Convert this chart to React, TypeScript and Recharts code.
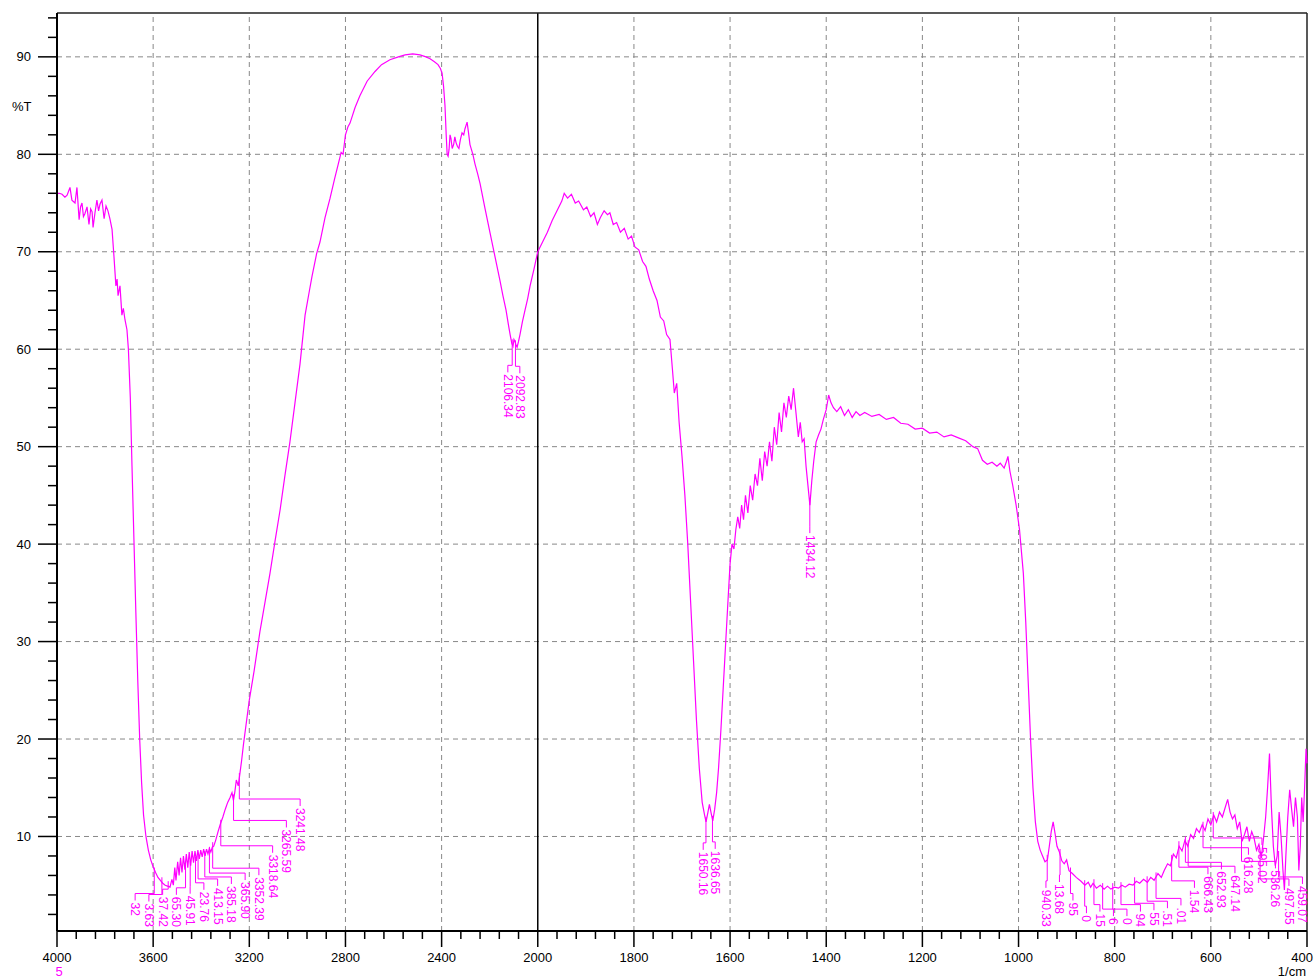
import { ComposedChart, Line, Scatter, XAxis, YAxis, ReferenceLine } from "recharts";

const MAGENTA = "#ff00ff";
const FONT = "'Liberation Sans', Arial, sans-serif";

// sampled spectrum, wavenumber in 1/cm (4000 -> 400) and %T
const WAVENUMBERS = [
  4000, 3990, 3979, 3967, 3958, 3946, 3938, 3925, 3917, 3908, 3902, 3896, 3890, 3884, 3875, 3867,
  3860, 3854, 3850, 3842, 3834, 3827, 3821, 3813, 3804, 3796, 3788, 3780, 3771, 3763, 3755, 3750,
  3746, 3742, 3738, 3730, 3724, 3717, 3709, 3703, 3695, 3688, 3680, 3672, 3664, 3656, 3648, 3640,
  3630, 3620, 3610, 3600, 3590, 3580, 3570, 3560, 3550, 3540, 3530, 3522, 3516, 3510, 3505, 3498,
  3492, 3486, 3480, 3474, 3468, 3462, 3456, 3450, 3444, 3438, 3432, 3426, 3420, 3414, 3408, 3402,
  3396, 3390, 3384, 3378, 3372, 3366, 3360, 3354, 3348, 3340, 3330, 3320, 3310, 3300, 3290, 3280,
  3272, 3266, 3260, 3254, 3246, 3240, 3232, 3224, 3216, 3208, 3200, 3180, 3156, 3135, 3114, 3093,
  3072, 3052, 3031, 3010, 2989, 2968, 2950, 2939, 2920, 2906, 2885, 2864, 2845, 2830, 2818, 2810,
  2800, 2790, 2781, 2760, 2740, 2710, 2677, 2650, 2615, 2580, 2552, 2520, 2490, 2465, 2448, 2430,
  2415, 2405, 2398, 2392, 2386, 2381, 2377, 2373, 2369, 2365, 2361, 2356, 2350, 2345, 2340, 2334,
  2328, 2322, 2315, 2308, 2303, 2298, 2294, 2288, 2282, 2270, 2261, 2250, 2240, 2220, 2199, 2178,
  2157, 2145, 2132, 2122, 2115, 2108, 2103, 2099, 2095, 2090, 2086, 2080, 2074, 2064, 2053, 2042,
  2032, 2016, 2000, 1990, 1980, 1970, 1960, 1950, 1945, 1938, 1930, 1922, 1915, 1905, 1898, 1890,
  1883, 1876, 1870, 1862, 1855, 1850, 1843, 1836, 1828, 1820, 1812, 1805, 1798, 1790, 1782, 1775,
  1768, 1760, 1752, 1745, 1738, 1732, 1725, 1720, 1716, 1711, 1706, 1700, 1694, 1688, 1682, 1676,
  1670, 1664, 1658, 1653, 1650, 1646, 1643, 1639, 1636, 1632, 1628, 1624, 1619, 1614, 1609, 1604,
  1600, 1596, 1592, 1588, 1584, 1580, 1576, 1572, 1568, 1563, 1558, 1553, 1548, 1543, 1538, 1533,
  1528, 1523, 1518, 1513, 1508, 1503, 1498, 1493, 1488, 1483, 1478, 1473, 1468, 1463, 1458, 1454,
  1450, 1446, 1442, 1438, 1434, 1430, 1426, 1421, 1416, 1411, 1406, 1400, 1395, 1390, 1385, 1378,
  1370, 1362, 1354, 1346, 1338, 1330, 1320, 1305, 1290, 1275, 1260, 1245, 1230, 1215, 1200, 1185,
  1170, 1155, 1140, 1125, 1110, 1095, 1085, 1075, 1065, 1055, 1045, 1038, 1030, 1025, 1022, 1018,
  1012, 1005, 998, 990, 985, 980, 975, 970, 965, 960, 955, 950, 945, 940, 936, 932,
  928, 924, 920, 915, 910, 905, 900, 895, 888, 880, 870, 862, 855, 850, 845, 838,
  830, 822, 815, 808, 800, 792, 785, 778, 770, 762, 755, 748, 740, 732, 725, 718,
  710, 703, 697, 690, 684, 678, 672, 666, 660, 654, 648, 642, 636, 630, 624, 618,
  612, 606, 600, 594, 588, 582, 576, 570, 565, 560, 555, 550, 545, 540, 535, 530,
  525, 520, 515, 510, 505, 500, 495, 490, 486, 482, 478, 474, 470, 466, 462, 458,
  454, 450, 447, 444, 440, 436, 432, 428, 424, 420, 417, 414, 411, 408, 405, 402, 400,
];

const TRANSMITTANCE = [
  76.0, 76.0, 75.9, 75.6, 75.8, 76.6, 75.3, 75.0, 76.6, 73.3, 74.6, 75.0, 73.6, 73.9, 74.6, 72.8,
  74.4, 74.1, 72.5, 74.0, 75.3, 74.2, 74.9, 75.3, 73.4, 74.7, 74.2, 73.4, 72.3, 69.5, 66.5, 67.2,
  65.5, 66.0, 66.5, 63.5, 64.2, 63.0, 62.0, 60.0, 55.0, 48.0, 40.5, 33.0, 26.0, 20.0, 15.5, 12.2,
  10.0, 8.6, 7.6, 6.9, 6.3, 5.8, 5.5, 5.2, 5.0, 4.9, 4.8, 5.6, 5.0, 6.8, 5.5, 7.4,
  6.0, 7.8, 6.3, 8.0, 6.6, 8.2, 6.8, 8.4, 7.0, 8.5, 7.3, 8.5, 7.5, 8.6, 7.7, 8.6,
  7.9, 8.7, 8.0, 8.7, 8.2, 8.8, 8.4, 8.9, 9.0, 9.6, 10.5, 11.3, 12.0, 12.8, 13.5, 14.0,
  14.5, 13.7, 14.6, 15.8, 15.2, 16.3, 17.8, 19.5, 21.0, 22.5, 24.0, 27.0, 31.0, 34.0, 37.0, 40.3,
  43.5, 47.0, 50.5, 54.5, 58.5, 63.5, 66.0, 67.5, 69.8, 71.0, 73.5, 75.5, 77.5, 79.0, 80.2, 80.0,
  82.0, 82.8, 83.2, 84.8, 86.0, 87.5, 88.5, 89.2, 89.7, 90.0, 90.2, 90.3, 90.2, 90.0, 89.8, 89.5,
  89.2, 88.8, 88.3, 87.0, 85.0, 82.0, 80.0, 79.8, 80.5, 82.0, 81.6, 80.6, 81.0, 81.8, 81.2, 80.8,
  80.6, 81.5, 82.2, 82.0, 82.6, 83.0, 83.3, 82.2, 81.0, 80.0, 79.0, 78.0, 77.0, 74.5, 72.0, 69.5,
  67.0, 65.5, 64.0, 62.5, 61.5, 60.6, 60.3, 61.0, 60.8, 60.4, 60.2, 60.8, 61.5, 62.8, 64.0, 65.2,
  66.5, 68.2, 70.0, 71.0, 72.0, 73.2, 74.2, 75.2, 76.0, 75.5, 75.9, 75.0, 75.2, 74.3, 74.6, 73.6,
  74.0, 72.8, 73.5, 74.2, 73.8, 74.0, 72.8, 73.0, 72.0, 72.4, 71.3, 71.6, 70.5, 70.2, 69.0, 68.5,
  67.2, 66.0, 65.0, 63.3, 62.9, 61.5, 61.0, 58.0, 55.5, 56.5, 52.5, 49.0, 45.0, 40.0, 34.0, 28.0,
  22.0, 17.0, 13.5, 12.2, 11.5, 12.5, 13.3, 12.3, 11.6, 12.8, 14.5, 17.0, 21.0, 25.5, 30.0, 34.5,
  38.0, 40.0, 39.5, 41.5, 42.8, 41.6, 44.0, 42.5, 45.0, 43.2, 46.0, 44.5, 47.2, 46.0, 48.8, 46.5,
  49.5, 48.0, 50.5, 48.5, 52.0, 50.2, 53.5, 51.5, 54.5, 53.0, 55.2, 53.8, 56.0, 53.5, 51.0, 52.5,
  50.5, 50.8, 48.0, 46.0, 44.0, 46.5, 48.5, 50.5, 51.2, 51.8, 52.8, 53.8, 55.3, 54.5, 54.0, 53.6,
  54.1, 53.2, 53.8, 53.0, 53.6, 53.2, 53.5, 53.1, 53.3, 52.8, 53.0, 52.4, 52.3, 51.8, 51.9, 51.4,
  51.5, 51.0, 51.2, 50.9, 50.6, 50.0, 49.8, 48.6, 48.2, 48.4, 48.0, 48.3, 47.8, 48.5, 49.0, 47.5,
  46.0, 44.0, 41.5, 37.0, 32.0, 26.0, 20.0, 15.0, 11.5, 9.5, 8.6, 8.0, 7.4, 7.6, 9.0, 10.5,
  11.5, 10.3, 9.0, 8.4, 7.5, 7.2, 7.6, 6.5, 6.2, 5.8, 5.4, 5.0, 5.3, 4.8, 5.2, 4.7,
  5.0, 4.6, 4.9, 4.6, 4.8, 4.7, 5.0, 4.8, 5.1, 5.0, 5.4, 5.2, 5.6, 5.3, 5.8, 5.5,
  6.2, 5.8, 6.5, 7.2, 7.0, 8.2, 7.8, 9.0, 8.5, 9.6, 9.0, 10.2, 9.8, 10.8, 10.4, 11.2,
  10.6, 11.8, 11.2, 12.2, 11.5, 12.5, 12.0, 13.0, 13.8, 12.5, 11.8, 12.2, 10.8, 11.5, 9.5, 10.2,
  11.0, 9.5, 10.5, 9.8, 8.6, 9.2, 7.8, 10.0, 12.0, 15.0, 18.5, 13.0, 9.0, 7.0, 8.0, 12.5,
  10.0, 6.5, 4.5, 8.0, 12.0, 14.8, 12.8, 11.0, 14.0, 12.0, 6.5, 9.0, 14.0, 11.5, 15.0, 19.0, 17.5,
];

// picked peaks: position, %T and the label text as printed
const PEAK_WN = [
  3595.32, 3563.63, 3537.42, 3465.3, 3445.91, 3423.76, 3413.15, 3385.18, 3365.9, 3352.39, 3318.64,
  3265.59, 3241.48, 2106.34, 2092.83, 1650.16, 1636.65, 1434.12, 940.33, 913.68, 891.95, 862.4,
  843.15, 825.06, 804.1, 786.94, 758.55, 732.51, 714.01, 681.54, 666.43, 652.93, 647.14, 616.28,
  595.02, 536.26, 497.55, 459.07,
];
const PEAK_T = [
  6.3, 5.3, 4.9, 6.6, 7.0, 7.4, 7.8, 8.0, 8.4, 8.9, 11.2, 13.8, 16.0, 60.5, 60.4, 11.5, 11.6, 44.0,
  7.6, 8.2, 6.3, 5.0, 5.1, 4.7, 4.7, 4.8, 5.3, 5.4, 5.8, 7.6, 9.0, 9.5, 9.1, 11.0, 12.0, 9.6, 7.8,
  8.0,
];
const PEAK_TEXT = [
  "32", "3.63", "37.42", "65.30", "45.91", "23.76", "413.15", "385.18", "365.90", "3352.39",
  "3318.64", "3265.59", "3241.48", "2106.34", "2092.83", "1650.16", "1636.65", "1434.12",
  "940.33", "13.68", "95", "0", "15", "6", "0", "94", "55", ".51", ".01", "1.54", "666.43",
  "652.93", "647.14", "616.28", "595.02", "536.26", "497.55", "459.07",
];

const X_TICK_LABELS = [4000, 3600, 3200, 2800, 2400, 2000, 1800, 1600, 1400, 1200, 1000, 800, 600, 400];
const Y_TICK_LABELS = [10, 20, 30, 40, 50, 60, 70, 80, 90];

// layout
const W = 1314;
const H = 980;
const PLOT_LEFT = 57;
const PLOT_TOP = 13;
const PLOT_RIGHT = 1307;
const PLOT_BOTTOM = 931;
const PX_PER_U = (PLOT_RIGHT - PLOT_LEFT) / (X_TICK_LABELS.length - 1);
const Y_MIN = 0.3;
const Y_MAX = 94.5;

// 4000-2000 at 400 per division, 2000-400 at 200 per division
const toU = (w: number) => (w >= 2000 ? (4000 - w) / 400 : 5 + (2000 - w) / 200);
const toPx = (w: number) => PLOT_LEFT + toU(w) * PX_PER_U;

const spectrum = WAVENUMBERS.map((w, i) => ({ u: toU(w), t: TRANSMITTANCE[i] }));

// label slots for the crowded regions
const CLUSTERS = [
  { test: (w: number) => w > 3200, firstSlot: 3675, step: 13.75 },
  { test: (w: number) => w < 1000, firstSlot: 943, step: 13.5 },
];

const peaks = PEAK_WN.map((w, i) => ({ w, u: toU(w), t: PEAK_T[i], text: PEAK_TEXT[i], dx: 0 }));
CLUSTERS.forEach((c) => {
  const members = peaks.filter((p) => c.test(p.w));
  members.forEach((p, k) => {
    p.dx = toPx(c.firstSlot) + k * c.step - toPx(p.w);
  });
});
const lone = peaks.filter((p) => !CLUSTERS.some((c) => c.test(p.w)));
for (let k = 0; k < lone.length - 1; k++) {
  const a = lone[k];
  const b = lone[k + 1];
  const pa = toPx(a.w);
  const pb = toPx(b.w);
  if (pb - pa < 14) {
    const mid = (pa + pb) / 2;
    a.dx = mid - 6 - pa;
    b.dx = mid + 6 - pb;
  }
}

const textLen = (s: string) =>
  s.split("").reduce((n, ch) => n + (ch === "." ? 3.4 : 6.7), 0);

function PeakLabel(props: any) {
  const { cx, cy, payload } = props;
  if (cx == null || cy == null) return <g />;
  const lx = cx + payload.dx;
  const len = textLen(payload.text);
  const top = Math.min(cy + 30, PLOT_BOTTOM - 4 - len);
  const elbow = Math.max(cy + 3, top - 9);
  const pts = `${cx},${cy - 5} ${cx},${elbow} ${lx},${elbow} ${lx},${top - 2}`;
  return (
    <g>
      <polyline points={pts} fill="none" stroke={MAGENTA} strokeWidth={1} />
      <text
        x={lx}
        y={top}
        transform={`rotate(90 ${lx} ${top})`}
        fontSize={12}
        fontFamily={FONT}
        fill={MAGENTA}
        dominantBaseline="central"
      >
        {payload.text}
      </text>
    </g>
  );
}

const xTicks = Array.from({ length: (X_TICK_LABELS.length - 1) * 5 + 1 }, (_, i) => i / 5);
const yTicks = Array.from({ length: 47 }, (_, i) => i * 2 + 2);

function XTick({ x, y, payload }: any) {
  const v = payload.value;
  const idx = Math.round(v);
  const major = Math.abs(v - idx) < 1e-6;
  const last = idx === X_TICK_LABELS.length - 1;
  return (
    <g>
      <line x1={x} x2={x} y1={y} y2={y + (major ? 16 : 8)} stroke="#000" strokeWidth={1.5} />
      {major && (
        <text
          x={last ? W - 1 : x}
          y={y + 31}
          textAnchor={last ? "end" : "middle"}
          fontSize={13}
          fontFamily={FONT}
          fill="#000"
        >
          {X_TICK_LABELS[idx]}
        </text>
      )}
    </g>
  );
}

function YTick({ x, y, payload }: any) {
  const v = payload.value;
  const major = Y_TICK_LABELS.includes(v);
  return (
    <g>
      <line x1={x - (major ? 19 : 9)} x2={x} y1={y} y2={y} stroke="#000" strokeWidth={1.5} />
      {major && (
        <text x={x - 26} y={y + 4.5} textAnchor="end" fontSize={13} fontFamily={FONT} fill="#000">
          {v}
        </text>
      )}
    </g>
  );
}

const gridX = X_TICK_LABELS.map((_, i) => i).filter((i) => i > 0 && i < X_TICK_LABELS.length - 1 && i !== 5);

export default function App() {
  return (
    <div style={{ position: "absolute", left: 0, top: 0, width: W, height: H, background: "#fff" }}>
      <ComposedChart
        width={W}
        height={H}
        data={spectrum}
        margin={{ top: PLOT_TOP, right: W - PLOT_RIGHT, bottom: 0, left: 0 }}
      >
        <XAxis
          type="number"
          dataKey="u"
          domain={[0, X_TICK_LABELS.length - 1]}
          ticks={xTicks}
          interval={0}
          tick={<XTick />}
          tickLine={false}
          tickSize={0}
          tickMargin={0}
          height={H - PLOT_BOTTOM}
          axisLine={{ stroke: "#000", strokeWidth: 2 }}
        />
        <YAxis
          type="number"
          domain={[Y_MIN, Y_MAX]}
          allowDataOverflow
          ticks={yTicks}
          interval={0}
          tick={<YTick />}
          tickLine={false}
          tickSize={0}
          tickMargin={0}
          width={PLOT_LEFT}
          axisLine={{ stroke: "#000", strokeWidth: 2 }}
        />
        {Y_TICK_LABELS.map((v) => (
          <ReferenceLine key={"h" + v} y={v} stroke="#888" strokeDasharray="5 4" strokeWidth={1} />
        ))}
        {gridX.map((v) => (
          <ReferenceLine key={"v" + v} x={v} stroke="#888" strokeDasharray="5 4" strokeWidth={1} />
        ))}
        <ReferenceLine x={5} stroke="#000" strokeWidth={1.5} />
        <ReferenceLine y={Y_MAX} stroke="#222" strokeWidth={1.5} />
        <ReferenceLine x={X_TICK_LABELS.length - 1} stroke="#222" strokeWidth={1.5} />
        <Line
          type="linear"
          dataKey="t"
          stroke={MAGENTA}
          strokeWidth={1.2}
          dot={false}
          isAnimationActive={false}
        />
        <Scatter data={peaks} dataKey="t" shape={<PeakLabel />} isAnimationActive={false} />
      </ComposedChart>
      <svg
        width={W}
        height={H}
        style={{ position: "absolute", left: 0, top: 0, pointerEvents: "none" }}
      >
        <text x={12} y={111} fontSize={13} fontFamily={FONT} fill="#000">
          %T
        </text>
        <text x={59} y={976} textAnchor="middle" fontSize={13} fontFamily={FONT} fill={MAGENTA}>
          5
        </text>
        <text x={1306} y={976} textAnchor="end" fontSize={13} fontFamily={FONT} fill="#000">
          1/cm
        </text>
      </svg>
    </div>
  );
}
